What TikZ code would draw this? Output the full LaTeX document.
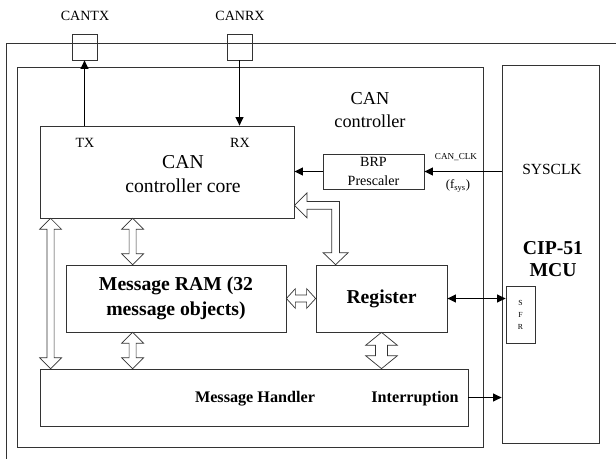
\documentclass[tikz,border=0pt]{standalone}
\usepackage{fontspec}
\setmainfont{Liberation Serif}
\usetikzlibrary{arrows.meta,calc}

\tikzset{
  box/.style={draw=black!80, line width=0.5pt, inner sep=0pt, align=center},
  bus/.style={draw=black!80, fill=white, line width=0.5pt},
  sig/.style={line width=0.9pt, -{Triangle[length=6pt,width=5.5pt]}},
  fs/.style 2 args={font=\fontsize{#1}{#2}\selectfont},
  bfs/.style 2 args={font=\fontsize{#1}{#2}\selectfont\bfseries}
}

% hollow double arrows: top/bottom (or left/right) point, head half width, shaft half width, head length
\newcommand{\vbus}[5]{%
  \draw[bus] let \p1=#1, \p2=#2 in
    (\x1,\y1) -- (\x1+#3,\y1-#5) -- (\x1+#4,\y1-#5) -- (\x1+#4,\y2+#5) -- (\x1+#3,\y2+#5)
    -- (\x1,\y2) -- (\x1-#3,\y2+#5) -- (\x1-#4,\y2+#5) -- (\x1-#4,\y1-#5) -- (\x1-#3,\y1-#5) -- cycle;}
\newcommand{\hbus}[5]{%
  \draw[bus] let \p1=#1, \p2=#2 in
    (\x1,\y1) -- (\x1+#5,\y1+#3) -- (\x1+#5,\y1+#4) -- (\x2-#5,\y1+#4) -- (\x2-#5,\y1+#3)
    -- (\x2,\y1) -- (\x2-#5,\y1-#3) -- (\x2-#5,\y1-#4) -- (\x1+#5,\y1-#4) -- (\x1+#5,\y1-#3) -- cycle;}

\begin{document}
\begin{tikzpicture}[x=0.025cm, y=-0.025cm]
  \useasboundingbox (0,0) rectangle (616,459);

  \draw[black!80, line width=0.5pt] (616,43) -- (6,43) -- (6,459);

  \node[box, minimum width=11.65cm, minimum height=9.5cm] (ctrl) at (250,257) {};
  \node[box, minimum width=2.425cm, minimum height=9.45cm] (mcu) at (550.5,254) {};

  \node[box, minimum width=0.625cm, minimum height=0.65cm] (canTX) at (84.5,47) {};
  \node[box, minimum width=0.625cm, minimum height=0.65cm] (canRX) at (239.5,47) {};
  \node[fs={10}{12}] (lblTX) at (85,16) {CANTX};
  \node[fs={10}{12}] (lblRX) at (240,16) {CANRX};

  \node[box, minimum width=6.35cm, minimum height=2.3cm] (core) at (167,172) {};
  \node[fs={10}{12}] (tx) at (85,143) {TX};
  \node[fs={10}{12}] (rx) at (240,143) {RX};
  \node[fs={14}{17}, align=center] (coretxt) at (183,174) {CAN\\controller core};

  \node[fs={13}{16.3}, align=center] (ctrltxt) at (370,110) {CAN\\controller};

  \node[box, fs={10}{13.5}, minimum width=2.525cm, minimum height=0.875cm] (brp) at (373.5,171.5) {BRP\\Prescaler};
  \node[fs={6.5}{8}] (clk) at (456,157) {CAN\_CLK};
  \node[fs={9}{11}] (fsys) at (458,186) {(f\textsubscript{sys})};

  \node[fs={11}{13}] (sysclk) at (552,169) {SYSCLK};
  \node[bfs={14}{15.6}, align=center] (cip) at (553,259) {CIP-51\\MCU};
  \node[box, fs={5.5}{8.5}, minimum width=0.725cm, minimum height=1.425cm] (sfr) at (520.5,314.5) {S\\F\\R};

  \node[box, bfs={14}{17.7}, minimum width=5.5cm, minimum height=1.675cm] (ram) at (176,298.5) {Message RAM (32\\message objects)};
  \node[box, bfs={14}{17}, minimum width=3.275cm, minimum height=1.675cm] (reg) at (381.5,298.5) {Register};

  \node[box, minimum width=10.7cm, minimum height=1.425cm] (handler) at (254,397.5) {};
  \node[bfs={11.5}{14}] (mh) at (255,399) {Message Handler};
  \node[bfs={11.5}{14}] (intr) at (415,399) {Interruption};

  \draw[sig] (core.north -| canTX) -- (canTX.south);
  \draw[sig] (canRX.south) -- (core.north -| canRX);
  \draw[sig] (brp.west) -- (brp.west -| core.east);
  \draw[sig] (mcu.west |- brp.east) -- (brp.east);
  \draw[sig, {Triangle[length=6pt,width=5.5pt]}-{Triangle[length=6pt,width=5.5pt]}] (reg.east) -- (reg.east -| sfr.west);
  \draw[sig] (handler.east) -- (handler.east -| mcu.west);

  \vbus{($(core.south west)+(11,0)$)}{($(handler.north west)+(11,0)$)}{7.8pt}{2.5pt}{7.8pt}
  \vbus{($(core.south west)+(93,0)$)}{($(ram.north west)+(67,0)$)}{7.8pt}{2.5pt}{7.8pt}
  \vbus{($(ram.south west)+(67,0)$)}{($(handler.north west)+(93,0)$)}{7.8pt}{2.5pt}{7.8pt}
  \vbus{(reg.south)}{(reg.south |- handler.north)}{11.3pt}{4.25pt}{9.2pt}
  \hbus{(ram.east)}{(reg.west)}{7pt}{2.5pt}{6.4pt}

  % bent bus core <-> register
  \draw[bus] let \p1=($(core.south east)+(0,-13)$), \p2=($(reg.north west)+(20,0)$) in
    (\x1,\y1) -- (\x1+9pt,\y1+8.9pt) -- (\x1+9pt,\y1+2.8pt) -- (\x2+2.8pt,\y1+2.8pt)
    -- (\x2+2.8pt,\y2+8.5pt) -- (\x2+8.9pt,\y2+8.5pt) -- (\x2,\y2) -- (\x2-8.9pt,\y2+8.5pt)
    -- (\x2-2.8pt,\y2+8.5pt) -- (\x2-2.8pt,\y1-2.8pt) -- (\x1+9pt,\y1-2.8pt) -- (\x1+9pt,\y1-8.9pt) -- cycle;
\end{tikzpicture}
\end{document}
